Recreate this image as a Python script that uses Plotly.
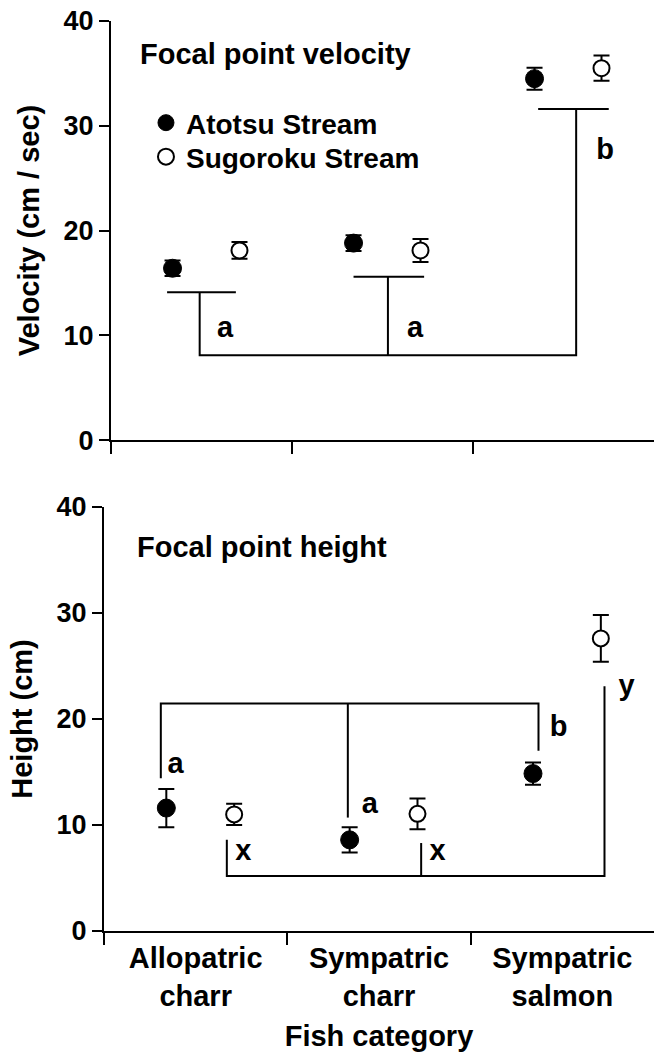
import plotly.graph_objects as go

# ---------------- data ----------------
categories = ["Allopatric<br>charr", "Sympatric<br>charr", "Sympatric<br>salmon"]
series_names = ["Atotsu Stream", "Sugoroku Stream"]

velocity_atotsu = [16.4, 18.8, 34.5]
velocity_atotsu_se = [0.75, 0.75, 1.05]
velocity_sugoroku = [18.1, 18.1, 35.5]
velocity_sugoroku_se = [0.8, 1.1, 1.2]

height_atotsu = [11.6, 8.6, 14.85]
height_atotsu_se = [1.8, 1.2, 1.05]
height_sugoroku = [11.0, 11.05, 27.6]
height_sugoroku_se = [1.0, 1.45, 2.2]

y_ticks = [0, 10, 20, 30, 40]

# significance brackets (category-unit x, data y), each a polyline
vel_brackets = [
    ([0.31, 0.69], [14.1, 14.1]),
    ([0.49, 0.49, 2.57, 2.57], [14.1, 8.1, 8.1, 31.6]),
    ([1.34, 1.73], [15.6, 15.6]),
    ([1.53, 1.53], [15.6, 8.1]),
    ([2.36, 2.75], [31.6, 31.6]),
]
vel_letters = ["a", "a", "b"]
vel_letter_x = [0.63, 1.68, 2.73]
vel_letter_y = [10.5, 10.5, 27.5]

hgt_brackets = [
    ([0.31, 0.31, 2.37, 2.37], [14.4, 21.45, 21.45, 17.0]),
    ([1.33, 1.33], [21.45, 10.7]),
    ([0.67, 0.67, 2.73, 2.73], [8.6, 5.2, 5.2, 23.1]),
    ([1.73, 1.73], [5.2, 8.3]),
]
hgt_letters = ["a", "a", "b", "x", "x", "y"]
hgt_letter_x = [0.39, 1.45, 2.48, 0.76, 1.82, 2.85]
hgt_letter_y = [15.6, 11.8, 19.1, 7.35, 7.4, 22.9]

# ---------------- style ----------------
FONT = "Liberation Sans"
off_atotsu = 0.34
off_sugoroku = 0.71

fig = go.Figure()


def add_panel(xa, ya, atotsu, atotsu_se, sugo, sugo_se, brackets, letters, lx, ly, show_legend):
    xs_a = [i + off_atotsu for i in range(len(categories))]
    xs_s = [i + off_sugoroku for i in range(len(categories))]
    bx, by = [], []
    for px, py in brackets:
        bx += px + [None]
        by += py + [None]
    fig.add_trace(go.Scatter(x=bx, y=by, mode="lines", line=dict(color="black", width=2),
                             xaxis=xa, yaxis=ya, showlegend=False, hoverinfo="skip"))
    fig.add_trace(go.Scatter(
        x=xs_a, y=atotsu, mode="markers", name=series_names[0],
        marker=dict(symbol="circle", size=18, color="black", line=dict(color="black", width=1)),
        error_y=dict(type="data", array=atotsu_se, color="black", thickness=2, width=8),
        xaxis=xa, yaxis=ya, showlegend=show_legend, legend="legend"))
    fig.add_trace(go.Scatter(
        x=xs_s, y=sugo, mode="markers", name=series_names[1],
        marker=dict(symbol="circle", size=16, color="white", line=dict(color="black", width=2)),
        error_y=dict(type="data", array=sugo_se, color="black", thickness=2, width=8),
        xaxis=xa, yaxis=ya, showlegend=show_legend, legend="legend2"))
    fig.add_trace(go.Scatter(
        x=lx, y=ly, mode="text", text=letters,
        textfont=dict(family=FONT, size=29, color="black", weight="bold"),
        xaxis=xa, yaxis=ya, showlegend=False, hoverinfo="skip"))


add_panel("x", "y", velocity_atotsu, velocity_atotsu_se, velocity_sugoroku, velocity_sugoroku_se,
          vel_brackets, vel_letters, vel_letter_x, vel_letter_y, True)
add_panel("x2", "y2", height_atotsu, height_atotsu_se, height_sugoroku, height_sugoroku_se,
          hgt_brackets, hgt_letters, hgt_letter_x, hgt_letter_y, False)

tickfont = dict(family=FONT, size=27, color="black", weight="bold")
labfont = dict(family=FONT, size=29, color="black", weight="bold")
legfont = dict(family=FONT, size=28, color="black", weight="bold")

common_y = dict(range=[0, 40], tickvals=y_ticks, ticks="outside", ticklen=10, tickwidth=2,
                tickcolor="black", showline=True, linecolor="black", linewidth=2,
                showgrid=False, zeroline=False, tickfont=tickfont, automargin=False)
common_x = dict(range=[0, 3], tickvals=[0.5, 1.5, 2.5], ticks="", showline=True,
                linecolor="black", linewidth=2, showgrid=False, zeroline=False,
                minor=dict(tickvals=[0, 1, 2], ticks="outside", ticklen=12, tickwidth=2,
                           tickcolor="black"),
                automargin=False)
leg_common = dict(xanchor="left", yanchor="middle", bgcolor="rgba(0,0,0,0)", borderwidth=0,
                  font=legfont, tracegroupgap=0, itemwidth=30)

fig.update_layout(
    width=654, height=1052,
    margin=dict(l=0, r=0, t=0, b=0),
    paper_bgcolor="white", plot_bgcolor="white",
    font=dict(family=FONT, color="black"),
    xaxis=dict(common_x, domain=[0.1697, 1.0], anchor="y", showticklabels=False),
    yaxis=dict(common_y, domain=[0.5817, 0.9800], anchor="x",
               title=dict(text="Velocity (cm / sec)", font=labfont, standoff=15)),
    xaxis2=dict(common_x, domain=[0.159, 1.0], anchor="y2", ticktext=categories,
                tickfont=labfont,
                title=dict(text="Fish category", font=labfont, standoff=17)),
    yaxis2=dict(common_y, domain=[0.1150, 0.5181], anchor="x2",
                title=dict(text="Height (cm)", font=labfont, standoff=15)),
    legend=dict(leg_common, x=0.2232, y=0.8831),
    legend2=dict(leg_common, x=0.2232, y=0.8508),
    annotations=[
        dict(text="Focal point velocity", xref="x", yref="y", x=0.15, y=36.9,
             xanchor="left", yanchor="middle", showarrow=False, font=labfont),
        dict(text="Focal point height", xref="x2", yref="y2", x=0.17, y=36.2,
             xanchor="left", yanchor="middle", showarrow=False, font=labfont),
    ],
)

fig.write_html("out.html", config={"displayModeBar": False},
               post_script="document.body.style.margin='0';")
